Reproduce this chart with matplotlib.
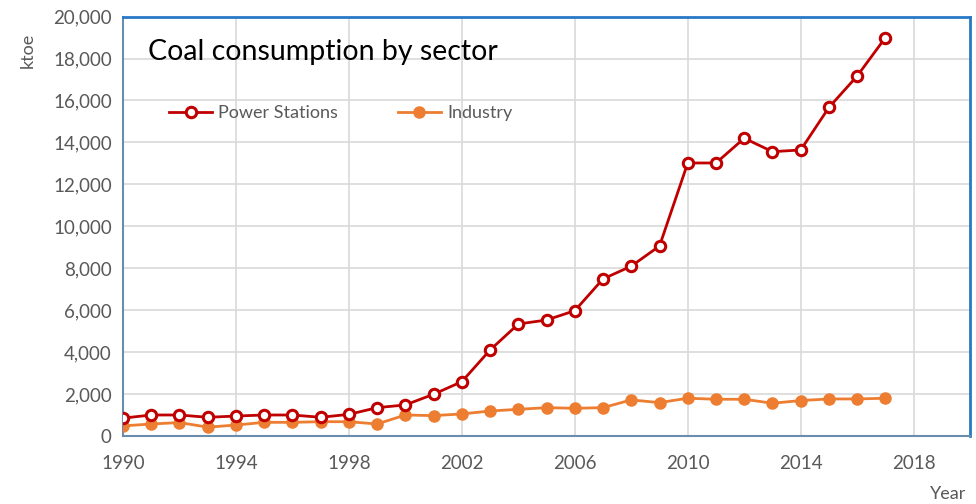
import matplotlib.pyplot as plt
import numpy as np

years = list(range(1990, 2018))
power = [850, 1000, 1000, 890, 950, 1000, 1000, 890, 1030, 1350,
         1480, 1990, 2590, 4100, 5340, 5530, 5975, 7490, 8100, 9060,
         13020, 13020, 14200, 13560, 13640, 15670, 17170, 19000]
industry = [480, 570, 640, 420, 520, 650, 650, 680, 680, 570,
            1000, 970, 1050, 1190, 1270, 1350, 1320, 1350, 1720, 1590,
            1800, 1750, 1750, 1560, 1690, 1765, 1765, 1800]
xticks = [1990, 1994, 1998, 2002, 2006, 2010, 2014, 2018]
yticks = list(range(0, 20001, 2000))

plt.rcParams['font.family'] = ['Lato', 'DejaVu Sans']

fig = plt.figure(figsize=(9.76, 5.04), dpi=100)
ax = fig.add_axes([0.126, 0.135, 0.868, 0.832])

red = '#c00000'
orange = '#ed7d31'
ax.plot(years, power, color=red, lw=2, marker='o', ms=7.5, mfc='white',
        mec=red, mew=2.2, label='Power Stations', zorder=4)
ax.plot(years, industry, color=orange, lw=2, marker='o', ms=8, mfc=orange,
        mec=orange, label='Industry', zorder=3)

ax.set_xlim(1990, 2020)
ax.set_ylim(0, 20000)
ax.set_xticks(xticks)
ax.set_yticks(yticks)
ax.set_yticklabels(['{:,}'.format(v) for v in yticks])
ax.grid(True, color='#d9d9d9', lw=1.2)
ax.set_axisbelow(True)
ax.tick_params(length=0, labelsize=13.5, colors='#595959', pad=8)
ax.tick_params(axis='x', pad=14)

for s in ['top', 'right']:
    ax.spines[s].set_color('#2878c8')
    ax.spines[s].set_linewidth(2)
for s in ['left', 'bottom']:
    ax.spines[s].set_color('#6a8cad')
    ax.spines[s].set_linewidth(1.5)

ax.text(0.03, 0.915, 'Coal consumption by sector', transform=ax.transAxes,
        fontsize=20.5, color='black', va='center', ha='left')
ax.legend(loc='upper left', bbox_to_anchor=(0.035, 0.828), ncol=2, frameon=False,
          fontsize=13, labelcolor='#595959', columnspacing=3.3, handlelength=2.4,
          handletextpad=0.33)

fig.text(0.028, 0.9, 'ktoe', rotation=90, fontsize=13, color='#595959',
         ha='center', va='center')
fig.text(0.971, 0.02, 'Year', fontsize=13, color='#595959', ha='center',
         va='center')

fig.savefig('out.png', dpi=100)
